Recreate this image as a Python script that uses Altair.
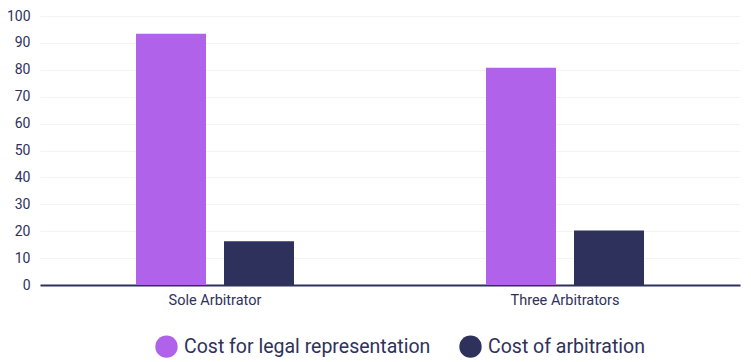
import altair as alt
import pandas as pd

categories = ["Sole Arbitrator", "Three Arbitrators"]
series = ["Cost for legal representation", "Cost of arbitration"]
legal = [93.4, 80.8]
arbitration = [16.3, 20.3]
colors = ["#b062ea", "#2e315c"]

rows = []
for i, c in enumerate(categories):
    rows.append({"category": c, "series": series[0], "value": legal[i]})
    rows.append({"category": c, "series": series[1], "value": arbitration[i]})
df = pd.DataFrame(rows)

navy = "#2e315c"

chart = alt.Chart(df).mark_bar().encode(
    x=alt.X("category:N", sort=categories, title=None,
            scale=alt.Scale(paddingInner=0.5486, paddingOuter=0.2743),
            axis=alt.Axis(labelAngle=0, ticks=False, domainColor=navy, domainWidth=2,
                          labelColor=navy, labelFontSize=14.5, labelFont="Roboto",
                          labelPadding=8, grid=False)),
    xOffset=alt.XOffset("series:N", sort=series,
                        scale=alt.Scale(paddingInner=0.2045, paddingOuter=0)),
    y=alt.Y("value:Q", title=None,
            scale=alt.Scale(domain=[0, 100]),
            axis=alt.Axis(values=list(range(0, 101, 10)), ticks=False, domain=False,
                          labelColor=navy, labelFontSize=14, labelFont="Roboto",
                          labelPadding=10, gridColor="#f3f3f3", gridWidth=1)),
    color=alt.Color("series:N", sort=series, title=None,
                    scale=alt.Scale(domain=series, range=colors),
                    legend=alt.Legend(orient="none", legendX=115, legendY=319,
                                      direction="horizontal", symbolType="circle",
                                      symbolSize=500, symbolStrokeWidth=0,
                                      labelFontSize=19.5, labelFont="Roboto",
                                      labelColor=navy, labelOffset=6, labelLimit=0,
                                      columnPadding=28)),
).properties(
    width=700, height=269,
    autosize=alt.AutoSizeParams(type="none"),
    padding={"left": 32, "top": 8, "right": 3, "bottom": 77},
).configure_view(stroke=None)

chart.save("out.html", embed_options={"renderer": "svg", "actions": False})
